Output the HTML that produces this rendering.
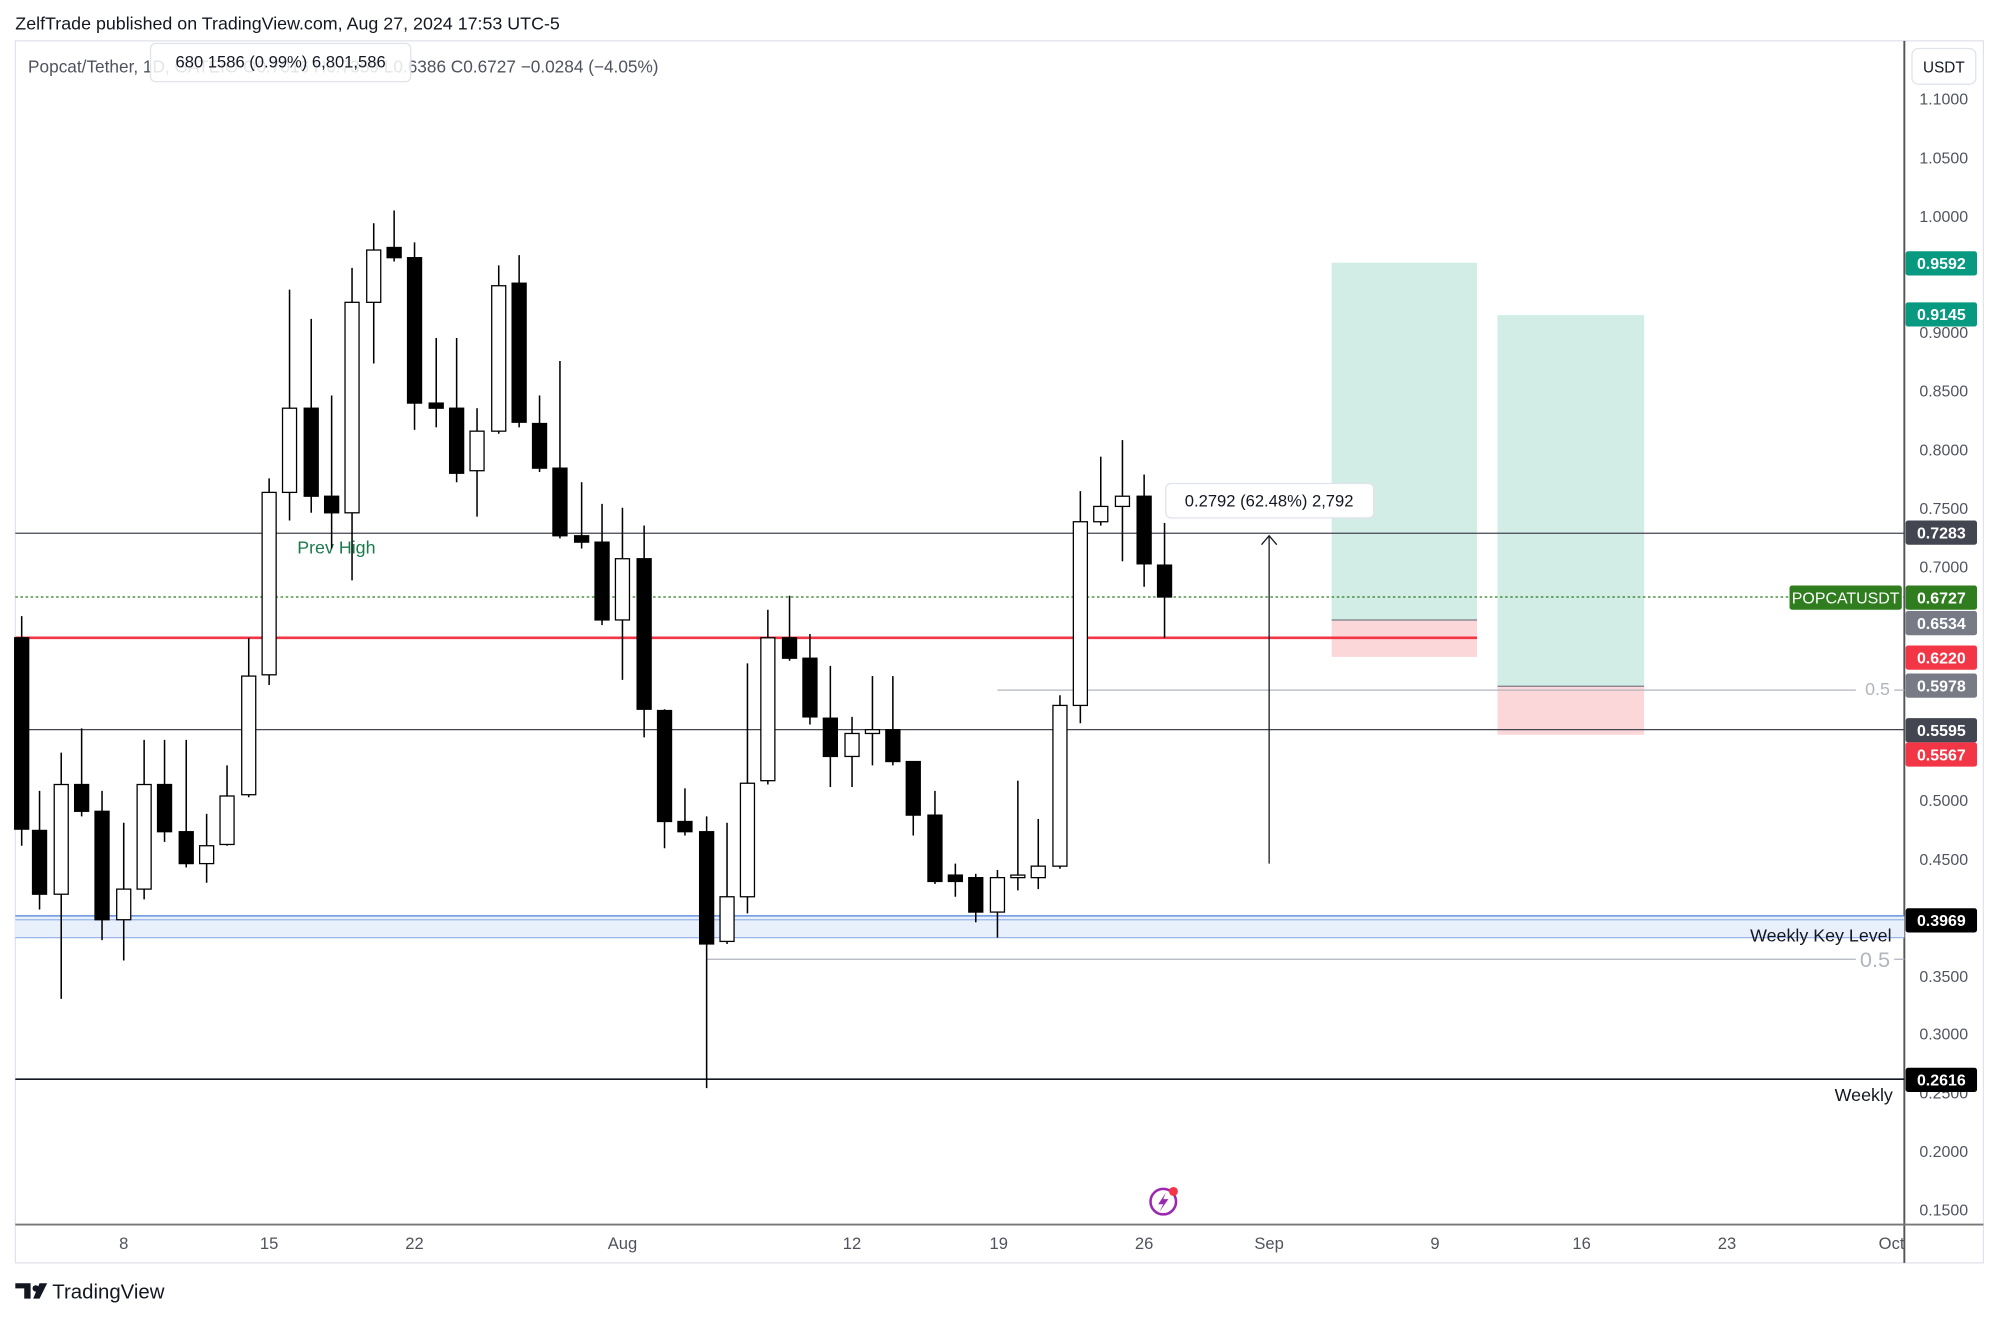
<!DOCTYPE html>
<html><head><meta charset="utf-8"><style>
html,body{margin:0;padding:0;background:#fff;}
svg{display:block;font-family:"Liberation Sans",sans-serif;}
</style></head><body>
<svg id="c" width="2000" height="1319" viewBox="0 0 1568 1034" preserveAspectRatio="none">
<rect width="1568" height="1034" fill="#fff"/>
<text x="12" y="23" font-size="14" fill="#131722">ZelfTrade published on TradingView.com, Aug 27, 2024 17:53 UTC-5</text>
<rect x="12" y="32" width="1543" height="958" fill="none" stroke="#e0e3eb"/>
<line x1="1493" y1="32" x2="1493" y2="990" stroke="#555" stroke-width="1.5"/>
<line x1="12" y1="960" x2="1555" y2="960" stroke="#777" stroke-width="1.5"/>
<rect x="1499" y="38" width="50" height="28" rx="5" fill="#fff" stroke="#e0e3eb"/>
<text x="1524" y="57" font-size="12" fill="#131722" text-anchor="middle">USDT</text>
<g font-size="12.5" fill="#50535e" text-anchor="end">
<text x="1543" y="82">1.1000</text><text x="1543" y="128">1.0500</text><text x="1543" y="174">1.0000</text>
<text x="1543" y="265">0.9000</text><text x="1543" y="311">0.8500</text><text x="1543" y="357">0.8000</text>
<text x="1543" y="403">0.7500</text><text x="1543" y="449">0.7000</text><text x="1543" y="632">0.5000</text>
<text x="1543" y="678">0.4500</text><text x="1543" y="770">0.3500</text><text x="1543" y="815">0.3000</text>
<text x="1543" y="861">0.2500</text><text x="1543" y="907">0.2000</text><text x="1543" y="953">0.1500</text>
</g>
<g font-size="13" fill="#50535e" text-anchor="middle">
<text x="97" y="979">8</text><text x="211" y="979">15</text><text x="325" y="979">22</text><text x="488" y="979">Aug</text>
<text x="668" y="979">12</text><text x="783" y="979">19</text><text x="897" y="979">26</text><text x="995" y="979">Sep</text>
<text x="1125" y="979">9</text><text x="1240" y="979">16</text><text x="1354" y="979">23</text><text x="1483" y="979">Oct</text>
</g>
<rect x="12" y="718" width="1481" height="17" fill="#e8f0fb"/>
<line x1="12" y1="718" x2="1493" y2="718" stroke="#4a7fd8" stroke-width="1"/>
<line x1="12" y1="721" x2="1493" y2="721" stroke="#9bb6e8" stroke-width="1"/>
<line x1="12" y1="735" x2="1493" y2="735" stroke="#9bb6e8" stroke-width="1"/>
<text x="1483" y="738" font-size="14" fill="#131722" text-anchor="end">Weekly Key Level</text>
<rect x="1044" y="206" width="114" height="280" fill="#d1ede6"/>
<rect x="1044" y="486" width="114" height="29" fill="#fbd7da"/>
<line x1="1044" y1="486" x2="1158" y2="486" stroke="#787b86"/>
<rect x="1174" y="247" width="115" height="291" fill="#d1ede6"/>
<rect x="1174" y="538" width="115" height="38" fill="#fbd7da"/>
<line x1="1174" y1="538" x2="1289" y2="538" stroke="#787b86"/>
<line x1="12" y1="418" x2="1493" y2="418" stroke="#434651" stroke-width="1"/>
<text x="233" y="434" font-size="14" fill="#1b7a4c">Prev High</text>
<line x1="12" y1="500" x2="1158" y2="500" stroke="#f23645" stroke-width="2"/>
<line x1="12" y1="468" x2="1493" y2="468" stroke="#2f7d1f" stroke-width="1" stroke-dasharray="2,2"/>
<line x1="12" y1="572" x2="1493" y2="572" stroke="#434651" stroke-width="1"/>
<line x1="782" y1="541" x2="1455" y2="541" stroke="#b2b5be"/>
<text x="1472" y="545" font-size="14" fill="#b2b5be" text-anchor="middle">0.5</text>
<line x1="1485" y1="541" x2="1493" y2="541" stroke="#b2b5be"/>
<line x1="554" y1="752" x2="1455" y2="752" stroke="#b2b5be"/>
<text x="1470" y="758" font-size="17" fill="#b2b5be" text-anchor="middle">0.5</text>
<line x1="1485" y1="752" x2="1493" y2="752" stroke="#b2b5be"/>
<line x1="12" y1="846" x2="1493" y2="846" stroke="#131722" stroke-width="1.3"/>
<text x="1484" y="863" font-size="14" fill="#131722" text-anchor="end">Weekly</text>
<line x1="995" y1="677" x2="995" y2="420" stroke="#131722"/>
<polyline points="989,427 995,420 1001,427" fill="none" stroke="#131722"/>
<rect x="914" y="379" width="163" height="27" rx="4" fill="#fff" stroke="#e0e3eb"/>
<text x="995" y="397" font-size="13" fill="#131722" text-anchor="middle">0.2792 (62.48%) 2,792</text>
<g id="cand"></g>
<text x="22" y="57" font-size="13.5" fill="#50535e">Popcat/Tether, 1D, GATEIO  O0.7016  H0.7359  L0.6386  C0.6727  <tspan>−0.0284 (−4.05%)</tspan></text>
<rect x="118" y="34" width="204" height="30" rx="4" fill="#fff" fill-opacity="0.85" stroke="#e0e3eb"/>
<text x="220" y="53" font-size="13" fill="#131722" text-anchor="middle">680 1586 (0.99%) 6,801,586</text>
<g font-size="12.5" font-weight="bold" fill="#fff" text-anchor="middle">
<rect x="1494" y="197" width="56" height="19" rx="2" fill="#089981"/><text x="1522" y="211">0.9592</text>
<rect x="1494" y="237" width="56" height="19" rx="2" fill="#089981"/><text x="1522" y="251">0.9145</text>
<rect x="1494" y="408" width="56" height="19" rx="2" fill="#434651"/><text x="1522" y="422">0.7283</text>
<rect x="1403" y="459" width="88" height="19" rx="2" fill="#2f7d1f"/><text x="1447" y="473" font-weight="normal">POPCATUSDT</text>
<rect x="1494" y="459" width="56" height="19" rx="2" fill="#2f7d1f"/><text x="1522" y="473">0.6727</text>
<rect x="1494" y="479" width="56" height="19" rx="2" fill="#787b86"/><text x="1522" y="493">0.6534</text>
<rect x="1494" y="506" width="56" height="19" rx="2" fill="#f23645"/><text x="1522" y="520">0.6220</text>
<rect x="1494" y="528" width="56" height="19" rx="2" fill="#787b86"/><text x="1522" y="542">0.5978</text>
<rect x="1494" y="563" width="56" height="19" rx="2" fill="#434651"/><text x="1522" y="577">0.5595</text>
<rect x="1494" y="582" width="56" height="19" rx="2" fill="#f23645"/><text x="1522" y="596">0.5567</text>
<rect x="1494" y="712" width="56" height="19" rx="2" fill="#000"/><text x="1522" y="726">0.3969</text>
<rect x="1494" y="837" width="56" height="19" rx="2" fill="#000"/><text x="1522" y="851">0.2616</text>
</g>
<circle cx="912" cy="942" r="10" fill="none" stroke="#9c27b0" stroke-width="2"/>
<path d="M914 935 L908 944 L912 944 L909 950 L916 940 L912 940 Z" fill="#9c27b0"/>
<circle cx="920" cy="934" r="3.5" fill="#f23645"/>
<path d="M12 1006 h12 v12 h-5 v-8 h-7 z" fill="#131722"/><circle cx="28" cy="1010" r="2.5" fill="#131722"/><path d="M31 1006 h6 l-6 12 h-5 z" fill="#131722"/>
<text x="41" y="1018" font-size="16" fill="#131722">TradingView</text>
</svg>
<script>
var d=[[17,0,500,650,483,663],[31,0,651,701,620,713],[48,1,615,701,590,783],[64,0,615,636,571,640],[80,0,636,721,620,737],[97,1,697,721,645,753],[113,1,615,697,580,705],[129,0,615,652,580,660],[146,0,652,677,580,680],[162,1,663,677,638,692],[178,1,624,662,600,663],[195,1,530,623,500,625],[211,1,386,529,375,537],[227,1,320,386,227,408],[244,0,320,389,250,402],[260,0,389,402,310,430],[276,1,237,402,210,455],[293,1,196,237,175,285],[309,0,194,202,165,205],[325,0,202,316,190,337],[342,0,316,320,265,335],[358,0,320,371,265,378],[374,1,338,369,320,405],[391,1,224,338,208,340],[407,0,222,331,200,335],[423,0,332,367,310,370],[439,0,367,420,283,422],[456,0,420,425,378,430],[472,0,425,486,395,490],[488,1,438,486,398,533],[505,0,438,556,412,578],[521,0,557,644,556,665],[537,0,644,652,618,655],[554,0,652,740,640,853],[570,1,703,738,645,740],[586,1,614,703,520,716],[602,1,500,612,478,615],[619,0,500,516,467,518],[635,0,516,562,497,568],[651,0,563,593,522,617],[668,1,575,593,562,617],[684,1,572,575,530,600],[700,0,572,597,530,600],[716,0,597,639,597,655],[733,0,639,691,620,693],[749,0,686,691,677,703],[765,0,688,715,685,723],[782,1,688,715,682,735],[798,1,686,688,612,698],[814,1,679,688,642,697],[831,1,553,679,545,681],[847,1,409,553,385,567],[863,1,397,409,358,412],[880,1,389,397,345,440],[897,0,389,442,372,460],[913,0,443,468,410,500]];
var s='';d.forEach(function(c){var x=c[0];s+='<line x1="'+x+'" y1="'+c[4]+'" x2="'+x+'" y2="'+c[5]+'" stroke="#000" stroke-width="1.2"/>';var h=Math.max(1,c[3]-c[2]);s+='<rect x="'+(x-5.5)+'" y="'+c[2]+'" width="11" height="'+h+'" fill="'+(c[1]?'#fff':'#000')+'" stroke="#000" stroke-width="1"/>';});
document.getElementById('cand').innerHTML=s;
</script>
</body></html>
